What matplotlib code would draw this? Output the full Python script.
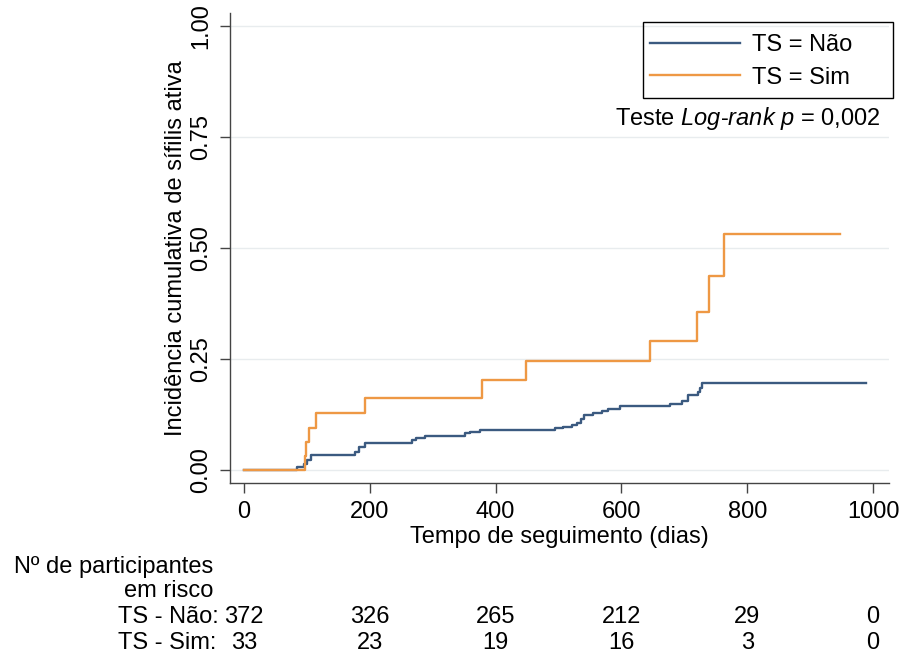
import matplotlib
matplotlib.use("Agg")
import matplotlib.pyplot as plt
import matplotlib.transforms as mtransforms
from matplotlib.patches import Rectangle

# Kaplan-Meier cumulative incidence
nao_t = [0, 84, 95, 100, 106, 176, 182, 192, 267, 273, 288, 351, 360, 375,
         494, 507, 521, 530, 536, 540, 555, 569, 579, 598, 677, 696, 706,
         722, 725, 728, 989]
nao_y = [0, 0.005, 0.013, 0.022, 0.032, 0.040, 0.050, 0.060, 0.068, 0.072,
         0.077, 0.082, 0.086, 0.090, 0.093, 0.097, 0.101, 0.105, 0.115, 0.124,
         0.128, 0.132, 0.137, 0.143, 0.148, 0.155, 0.168, 0.175, 0.183, 0.195,
         0.195]

sim_t = [0, 97, 99, 103, 114, 192, 378, 448, 645, 720, 739, 763, 947]
sim_y = [0, 0.030, 0.062, 0.094, 0.127, 0.161, 0.203, 0.246, 0.290, 0.355,
         0.436, 0.530, 0.530]

risk_times = [0, 200, 400, 600, 800, 1000]
risk_nao = [372, 326, 265, 212, 29, 0]
risk_sim = [33, 23, 19, 16, 3, 0]

labels = ["TS = Não", "TS = Sim"]
blue = "#3b5a80"
orange = "#ee9844"

plt.rcParams['font.family'] = ['Liberation Sans', 'DejaVu Sans']
plt.rcParams['mathtext.fontset'] = 'custom'
plt.rcParams['mathtext.rm'] = 'Liberation Sans'
plt.rcParams['mathtext.it'] = 'Liberation Sans:italic'
fs = 17

W, H = 902, 658
fig = plt.figure(figsize=(W / 100, H / 100), dpi=100)
# axes box in pixel coords: left 230, right 889, top 13, bottom 483
ax = fig.add_axes([230 / W, (H - 483) / H, (889 - 230) / W, (483 - 13) / H])

p1, = ax.step(nao_t, nao_y, where='post', color=blue, lw=1.7)
p2, = ax.step(sim_t, sim_y, where='post', color=orange, lw=1.7)

ax.set_xlim(-22.3, 1025.4)
ax.set_ylim(-0.030, 1.029)
ax.set_xticks(risk_times)
ax.set_yticks([0, 0.25, 0.5, 0.75, 1.0])
ax.set_yticklabels(["0.00", "0.25", "0.50", "0.75", "1.00"], rotation=90,
                   va='center')
ax.grid(axis='y', color='#e8ecee', lw=1.0)
ax.set_axisbelow(True)
for s in ['top', 'right']:
    ax.spines[s].set_visible(False)
for s in ['left', 'bottom']:
    ax.spines[s].set_color('#444444')
    ax.spines[s].set_linewidth(1.0)
ax.tick_params(axis='both', colors='#444444', labelcolor='black',
               labelsize=fs, length=7, width=1.0)
ax.tick_params(axis='x', pad=6)
ax.tick_params(axis='y', pad=6)

ax.set_xlabel("Tempo de seguimento (dias)", fontsize=fs, labelpad=2)
ax.set_ylabel("Incidência cumulativa de sífilis ativa", fontsize=fs,
              labelpad=2)

# legend: entries without frame, box drawn separately (wider right margin)
leg = ax.legend([p1, p2], labels, loc='upper left',
                bbox_to_anchor=(650 / W, 1 - 34 / H),
                bbox_transform=fig.transFigure, fontsize=fs, frameon=False,
                handlelength=3.8, handletextpad=0.5, borderpad=0,
                labelspacing=0.45, borderaxespad=0)
fig.patches.append(Rectangle((643 / W, 1 - 98 / H), 250 / W, 76 / H,
                             transform=fig.transFigure, fill=False,
                             edgecolor='black', lw=1.0))

fig.text(880 / W, 1 - 119 / H,
         r"Teste $\mathit{Log}$-$\mathit{rank}$ $\mathit{p}$ = 0,002",
         ha='right', va='center', fontsize=fs)

# number at risk table
trans = mtransforms.blended_transform_factory(ax.transData, fig.transFigure)
fig.text(213 / W, 1 - 567 / H, "Nº de participantes", ha='right',
         va='center', fontsize=fs)
fig.text(213 / W, 1 - 591 / H, "em risco", ha='right', va='center',
         fontsize=fs)
fig.text(219 / W, 1 - 617 / H, "TS - Não:", ha='right', va='center',
         fontsize=fs)
fig.text(216 / W, 1 - 643 / H, "TS - Sim:", ha='right', va='center',
         fontsize=fs)
for t, a, b in zip(risk_times, risk_nao, risk_sim):
    fig.text(t, 1 - 617 / H, str(a), transform=trans, ha='center',
             va='center', fontsize=fs)
    fig.text(t, 1 - 643 / H, str(b), transform=trans, ha='center',
             va='center', fontsize=fs)

fig.savefig("out.png", dpi=100)
